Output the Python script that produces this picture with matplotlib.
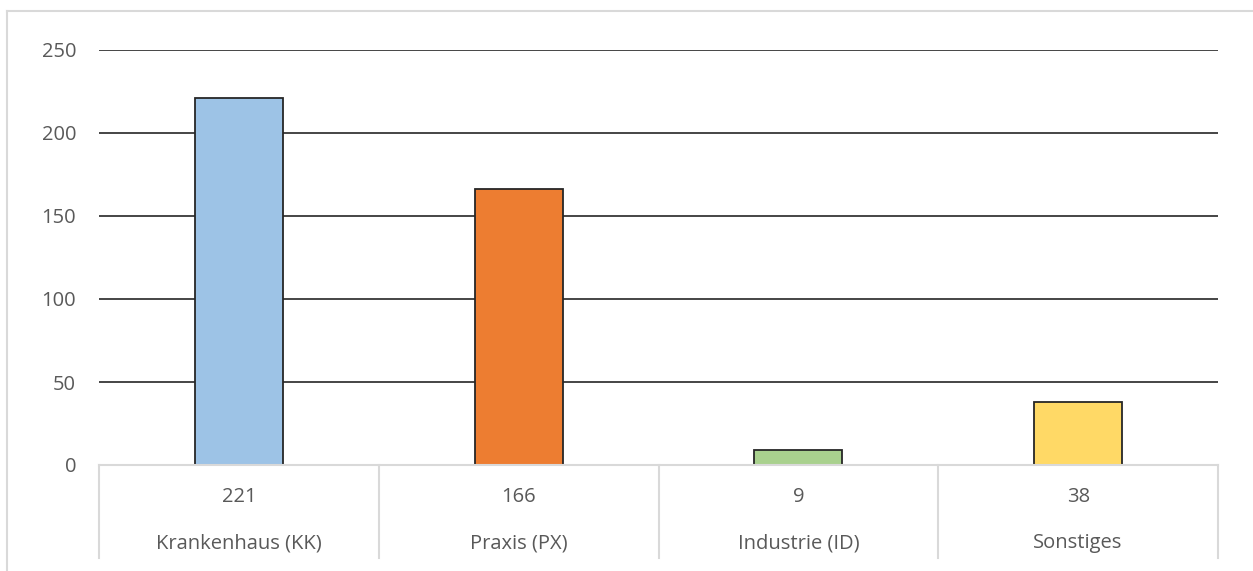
import matplotlib.pyplot as plt
from matplotlib.transforms import blended_transform_factory

categories = ["Krankenhaus (KK)", "Praxis (PX)", "Industrie (ID)", "Sonstiges"]
values = [221, 166, 9, 38]
colors = ["#9DC3E6", "#ED7D31", "#A9D18E", "#FFD966"]
yticks = [0, 50, 100, 150, 200, 250]

W, H = 1253, 571
plt.rcParams.update({"font.family": ["Open Sans", "DejaVu Sans"]})
fig = plt.figure(figsize=(W / 100, H / 100), dpi=100)

# outer chart frame (left and top only visible)
fig.add_artist(plt.Line2D([7 / W, 7 / W], [0, 1 - 11 / H], color="#D9D9D9", lw=1.5))
fig.add_artist(plt.Line2D([7 / W, 1], [1 - 11 / H, 1 - 11 / H], color="#D9D9D9", lw=1.5))

left, right, top, bottom = 99, 1218, 50, 465
ax = fig.add_axes([left / W, 1 - bottom / H, (right - left) / W, (bottom - top) / H])

x = list(range(len(categories)))
ax.bar(x, values, width=0.315, color=colors, edgecolor="#262626", linewidth=1.3, zorder=3)
ax.set_xlim(-0.5, len(categories) - 0.5)
ax.set_ylim(0, 250)
ax.set_yticks(yticks)
ax.set_yticklabels([str(t) for t in yticks], fontsize=14.5, color="#595959")
ax.tick_params(axis="y", length=0, pad=16.5)
ax.tick_params(axis="x", bottom=False, labelbottom=False)
for s in ["top", "right", "left"]:
    ax.spines[s].set_visible(False)
ax.spines["bottom"].set_color("#D9D9D9")
ax.spines["bottom"].set_linewidth(1.5)
ax.spines["bottom"].set_zorder(4)
ax.yaxis.grid(True, color="#262626", linewidth=1.2)
ax.set_axisbelow(True)
for gl in ax.yaxis.get_gridlines()[:1]:
    gl.set_visible(False)

# data table below axis
tr = blended_transform_factory(ax.transData, ax.transAxes)
tab_h = (558 - bottom) / (bottom - top)
for i in range(len(categories) + 1):
    ax.plot([i - 0.5, i - 0.5], [0, -tab_h], transform=tr, color="#D9D9D9",
            lw=1.5, clip_on=False)
for i, (c, v) in enumerate(zip(categories, values)):
    ax.text(i, -(497 - bottom) / (bottom - top), str(v), transform=tr,
            ha="center", va="center", fontsize=14.5, color="#595959")
    ax.text(i, -(543 - bottom) / (bottom - top), c, transform=tr,
            ha="center", va="center", fontsize=14.5, color="#595959")

plt.savefig("out.png", dpi=100)
